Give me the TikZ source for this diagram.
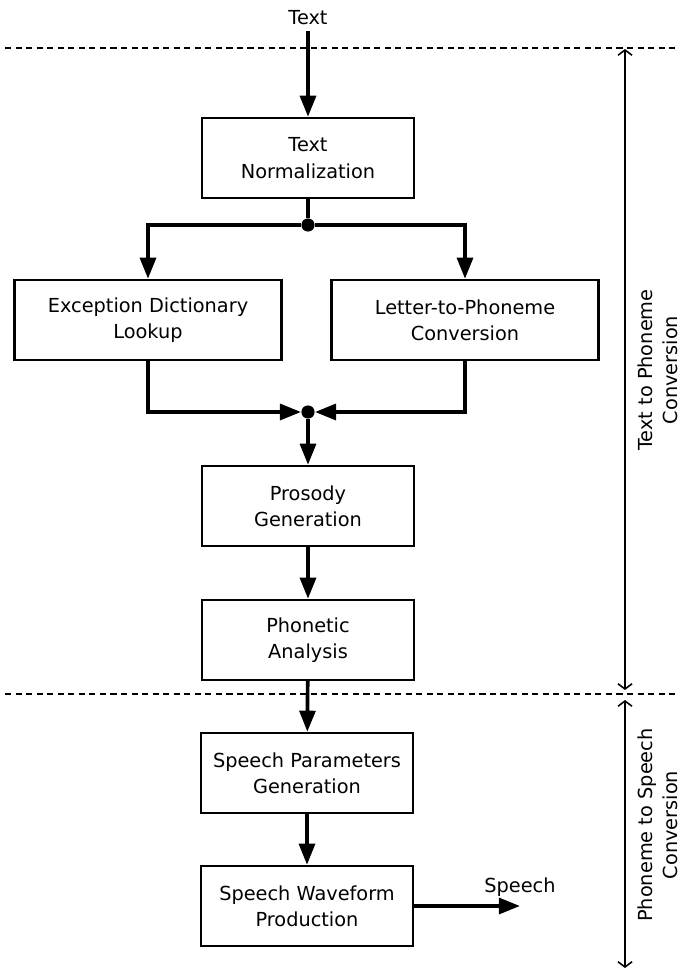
\documentclass[tikz,border=0pt]{standalone}
\usepackage{fontspec}
\setmainfont{DejaVu Sans}
\usetikzlibrary{arrows.meta, positioning}
\tikzstyle{arrow} = [line width=2.1pt,-{Triangle[length=12pt,width=9pt]}]
\tikzstyle{span} = [line width=0.9pt,{Straight Barb[length=3pt,width=8pt]}-{Straight Barb[length=3pt,width=8pt]}]
\tikzstyle{divider} = [line width=0.9pt,dash pattern=on 3.5pt off 2.5pt]

\begin{document}
\begin{tikzpicture}[x=0.02cm,y=-0.02cm,
			main node/.style={rectangle, minimum width=4.24cm, minimum height=1.6cm, align=center, draw=black, line width=1.4pt, font=\fontsize{11}{15}\selectfont},
			wide node/.style={main node, minimum width=5.34cm},
			junction/.style={circle, fill=black, inner sep=0pt, minimum size=7.5pt},
			side text/.style={align=center, font=\fontsize{11}{14}\selectfont}]
			
			\useasboundingbox (0,0) rectangle (686,970);
			
			\node[side text] (text) at (308,18) {Text};
			
			\node[main node] (norm) at (308,158) {Text\\Normalization};
			\node[junction] (split) at (308,225) {};
			
			\node[wide node] (lookup) at (148,320) {Exception Dictionary\\Lookup};
			\node[wide node] (ltp) at (465,320) {Letter-to-Phoneme\\Conversion};
			
			\node[junction] (merge) at (308,412) {};
			
			\node[main node] (prosody) at (308,506) {Prosody\\Generation};
			\node[main node] (phonetic) at (308,640) {Phonetic\\Analysis};
			
			\node[main node] (params) at (307,773) {Speech Parameters\\Generation};
			\node[main node] (wave) at (307,906) {Speech Waveform\\Production};
			
			\coordinate (out) at (520,906);
			\node[side text, above=2pt of out] (speech) {Speech};
			
			% stage borders
			\draw[divider] (5,48) -- (679,48);
			\draw[divider] (5,694) -- (679,694);
			
			\draw[arrow] (text) -- (norm);
			\draw[line width=2.1pt] (norm) -- (split);
			\draw[arrow] (split) -| (lookup);
			\draw[arrow] (split) -| (ltp);
			
			\draw[arrow] (lookup) |- (merge);
			\draw[arrow] (ltp) |- (merge);
			
			\draw[arrow] (merge) -- (prosody);
			\draw[arrow] (prosody) -- (phonetic);
			\draw[arrow] (phonetic) -- (params);
			\draw[arrow] (params) -- (wave);
			\draw[arrow] (wave) -- (out);
			
			% stage spans
			\draw[span] (625,49) -- (625,690);
			\draw[span] (625,700) -- (625,968);
			\node[side text, rotate=90] (ttp) at (658,370) {Text to Phoneme\\Conversion};
			\node[side text, rotate=90] (pts) at (658,825) {Phoneme to Speech\\Conversion};
			
\end{tikzpicture}
\end{document}
